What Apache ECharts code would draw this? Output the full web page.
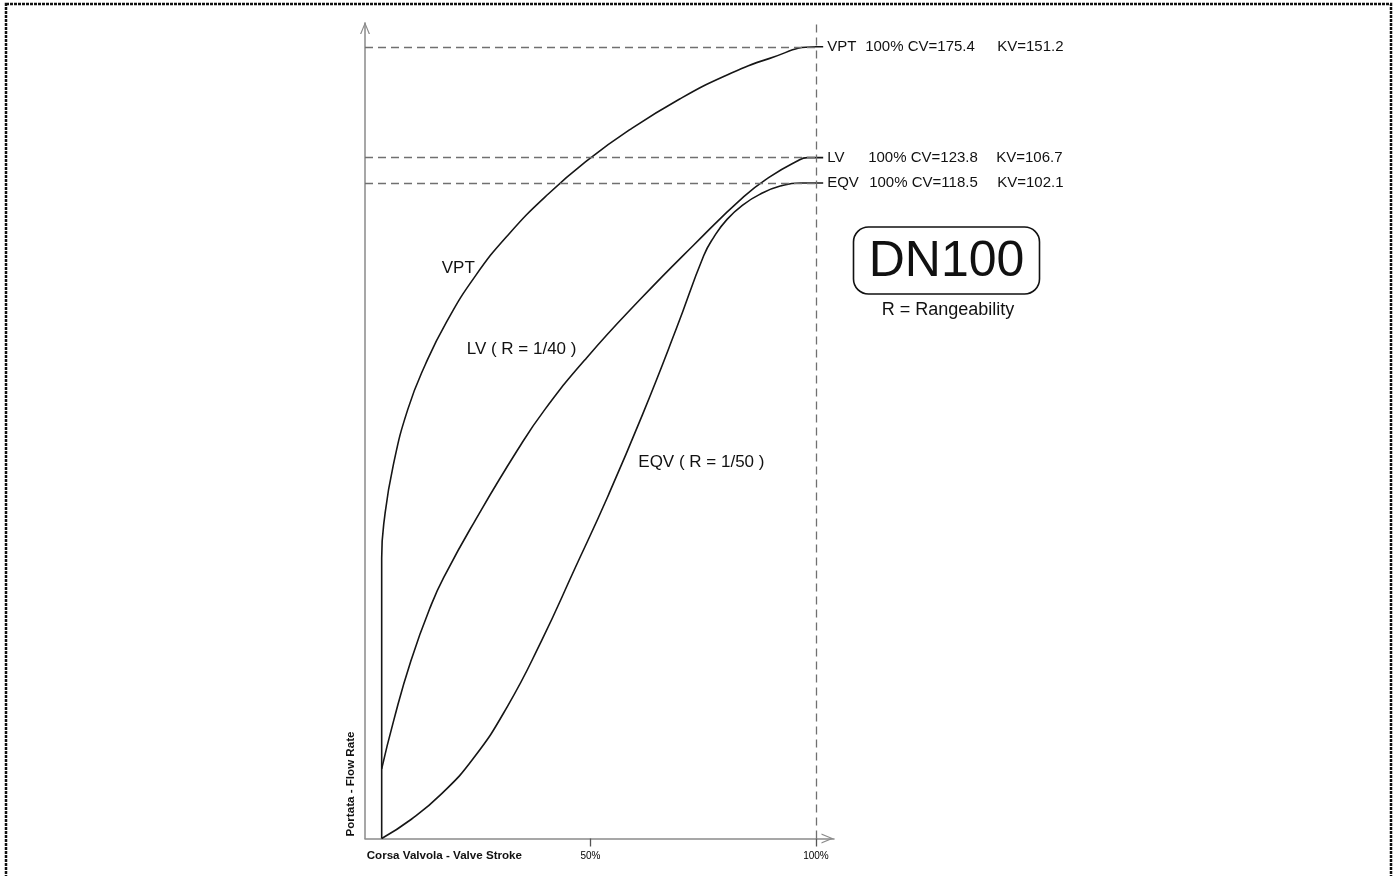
<!DOCTYPE html>
<html>
<head>
<meta charset="utf-8">
<script src="https://cdn.jsdelivr.net/npm/echarts@6/dist/echarts.min.js"></script>
<style>
html,body{margin:0;padding:0;background:#fff;}
#chart{width:1398px;height:876px;}
</style>
</head>
<body>
<div id="chart"></div>
<script>
// Valve stroke (%) vs relative flow rate (% of VPT max)
const vptPoints = [[3.7,0],[3.7,20],[3.7,35.4],[4.35,40.6],[6.25,47.1],[9.49,54.2],[13.48,60.0],[18.03,65.2],[24.41,71.0],[31.69,76.2],[40.64,81.4],[49.89,85.9],[58.64,89.5],[69.78,93.4],[79.78,96.3],[89.58,98.5],[100,100],[101.6,100]];
const lvPoints = [[3.7,8.8],[6.27,14.7],[10.15,22.4],[14.75,29.6],[17.94,33.5],[24.26,40.0],[33.75,49.0],[39.91,54.2],[49.13,60.7],[61.04,68.1],[72.79,74.9],[84.06,81.1],[89.85,83.6],[95.65,85.5],[98.1,86.0],[100,86.0],[101.6,86.0]];
const eqvPoints = [[3.7,0],[10.2,2.4],[16.9,5.6],[24.0,10.1],[31.5,16.6],[39.16,25.0],[46.54,34.1],[53.84,43.2],[61.51,53.5],[69.11,64.5],[75.1,73.6],[77.29,75.9],[80.29,78.2],[83.99,80.1],[87.69,81.4],[92.08,82.4],[96.58,82.8],[100,82.8],[101.6,82.8]];

const seriesNames = ['VPT','LV','EQV'];
const curveTitles = ['VPT','LV ( R = 1/40 )','EQV ( R = 1/50 )'];
const openPct = ['100%','100%','100%'];
const cvValues = ['175.4','123.8','118.5'];
const kvValues = ['151.2','106.7','102.1'];
const refLevels = [100, 86.0, 82.8];
const xTickValues = [50, 100];
const xTickLabels = ['50%','100%'];
const fullStroke = 100;

const FONT = '"Liberation Sans", Arial, sans-serif';
const chart = echarts.init(document.getElementById('chart'), null, {renderer:'canvas'});

const nameWidths = [38, 41, 42];
const valWidths = [132, 128, 128];
const allPoints = [vptPoints, lvPoints, eqvPoints];

const series = seriesNames.map((nm, i) => ({
  name: nm,
  type: 'line',
  data: allPoints[i],
  smooth: 0.5,
  showSymbol: false,
  symbol: 'none',
  lineStyle: {color:'#161616', width:1.6},
  z: 3,
  endLabel: {
    show: true,
    distance: 4,
    formatter: '{n|' + nm + '}{v|' + openPct[i] + ' CV=' + cvValues[i] + '}{k|KV=' + kvValues[i] + '}',
    fontFamily: FONT, fontSize: 15, color:'#111',
    rich: {
      n: {width: nameWidths[i], fontFamily: FONT, fontSize: 15, color:'#111'},
      v: {width: valWidths[i], fontFamily: FONT, fontSize: 15, color:'#111'},
      k: {fontFamily: FONT, fontSize: 15, color:'#111'}
    }
  }
}));

// reference dashed lines
series.push({
  type: 'line',
  data: [],
  silent: true,
  markLine: {
    silent: true,
    symbol: 'none',
    label: {show:false},
    lineStyle: {color:'#707070', width:1.3, type:[8,5]},
    data: refLevels.map(v => [{coord:[0, v]}, {coord:[fullStroke, v]}]).concat([[{coord:[fullStroke, 0]}, {coord:[fullStroke, 103]}]])
  }
});

const chevron = 'path://M5,0 L10,12 L8.7,12 L5,2.8 L1.3,12 L0,12 Z';

chart.setOption({
  animation: false,
  backgroundColor: '#fff',
  grid: {left:365, right:564, top:23, bottom:37.5, outerBoundsMode:'none', containLabel:false},
  xAxis: {
    type: 'value', min: 0, max: 104, interval: 50,
    splitLine: {show:false},
    axisLine: {show:true, lineStyle:{color:'#8a8a8a', width:1.5}, symbol:['none', chevron], symbolSize:[10,12], symbolOffset:[0,-6.5]},
    axisTick: {show:true, customValues: xTickValues, length: 8, lineStyle:{color:'#555', width:1.3}},
    axisLabel: {show:true, customValues: xTickValues, margin: 13, fontFamily: FONT, fontSize: 10, color:'#000',
      formatter: v => xTickLabels[xTickValues.indexOf(v)] || ''}
  },
  yAxis: {
    type: 'value', min: 0, max: 103,
    splitLine: {show:false},
    axisLine: {show:true, lineStyle:{color:'#8a8a8a', width:1.5}, symbol:['none', chevron], symbolSize:[10,12], symbolOffset:[0,-5]},
    axisTick: {show:false},
    axisLabel: {show:false}
  },
  graphic: [
    {type:'rect', silent:true, shape:{x:6, y:4, width:1385, height:900}, style:{fill:'none', stroke:'#111', lineWidth:2.5, lineDash:[3,1]}},
    {type:'text', x:441.7, y:268.5, style:{text:curveTitles[0], font:'17px ' + FONT, fill:'#111', textAlign:'left', textVerticalAlign:'middle', align:'left', verticalAlign:'middle'}},
    {type:'text', x:466.7, y:349, style:{text:curveTitles[1], font:'17px ' + FONT, fill:'#111', textAlign:'left', textVerticalAlign:'middle', align:'left', verticalAlign:'middle'}},
    {type:'text', x:638.3, y:462.3, style:{text:curveTitles[2], font:'17px ' + FONT, fill:'#111', textAlign:'left', textVerticalAlign:'middle', align:'left', verticalAlign:'middle'}},
    {type:'rect', shape:{x:853.5, y:227, width:186, height:67, r:15}, style:{fill:'#fff', stroke:'#111', lineWidth:1.6}},
    {type:'text', x:946.5, y:262, style:{text:'DN100', font:'50px ' + FONT, fill:'#111', textAlign:'center', textVerticalAlign:'middle', align:'center', verticalAlign:'middle'}},
    {type:'text', x:948, y:310, style:{text:'R = Rangeability', font:'18px ' + FONT, fill:'#111', textAlign:'center', textVerticalAlign:'middle', align:'center', verticalAlign:'middle'}},
    {type:'text', x:366.7, y:856, style:{text:'Corsa Valvola - Valve Stroke', font:'bold 11.6px ' + FONT, fill:'#111', textAlign:'left', textVerticalAlign:'middle', align:'left', verticalAlign:'middle'}},
    {type:'text', x:350.7, y:784, rotation: Math.PI/2, style:{text:'Portata - Flow Rate', font:'bold 11.6px ' + FONT, fill:'#111', textAlign:'center', textVerticalAlign:'middle', align:'center', verticalAlign:'middle'}}
  ],
  series: series
});
</script>
</body>
</html>
